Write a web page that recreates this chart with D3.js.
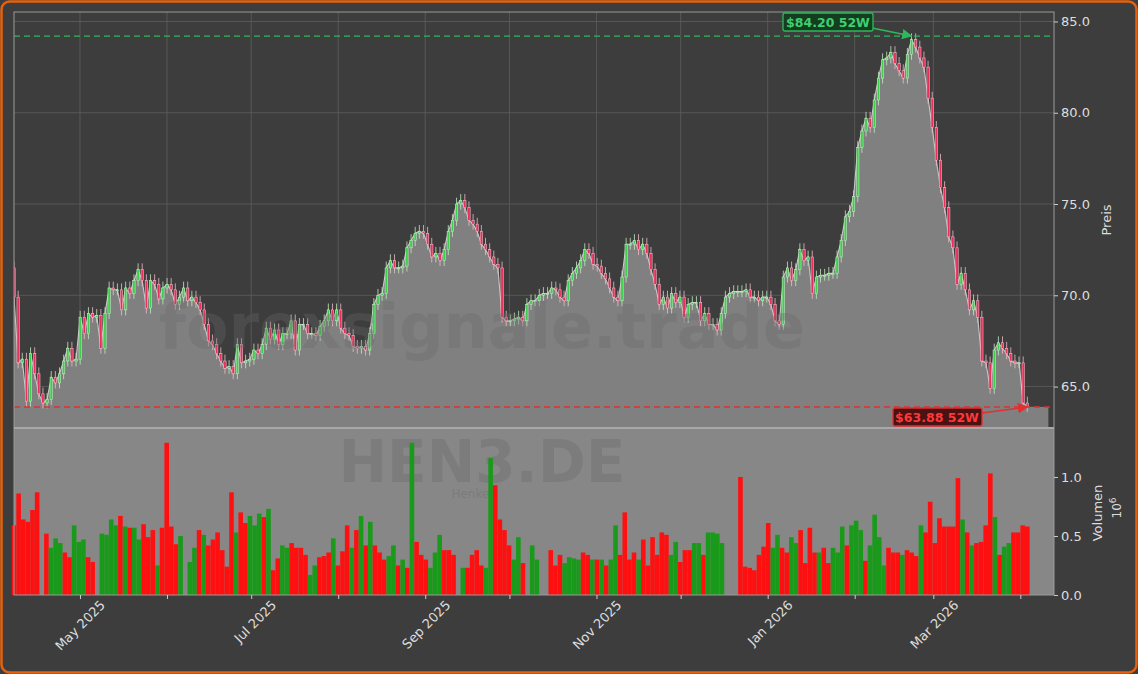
<!DOCTYPE html>
<html><head><meta charset="utf-8">
<script src="https://cdn.jsdelivr.net/npm/d3@7"></script>
<style>html,body{margin:0;padding:0;background:#3d3d3d;}svg{display:block;font-family:"DejaVu Sans",sans-serif;}</style>
</head><body><svg id="c" width="1138" height="674"></svg>
<script>
const firstOpen = 71.5;
const closes = [69.9,66.3,66.5,64.2,66.8,65.7,64.6,64.1,64.3,65.5,65.2,65.7,66.4,67.1,66.4,66.5,68.8,67.9,69.0,68.8,68.9,67.1,69.0,70.4,70.3,70.3,69.2,70.4,70.1,70.8,71.4,70.8,69.3,70.8,70.6,69.8,70.4,70.6,70.3,69.5,69.9,70.4,69.7,69.9,69.6,69.2,68.4,67.5,67.3,66.8,66.4,66.0,66.1,65.7,67.3,66.3,66.4,66.5,67.0,66.8,67.3,68.2,67.6,68.1,67.3,67.9,67.9,68.6,67.0,68.4,68.4,67.9,67.9,67.8,68.3,68.6,69.2,68.6,69.2,68.2,67.9,67.8,67.2,67.1,67.2,67.0,67.9,69.5,70.0,70.1,71.5,71.9,71.5,71.5,71.6,72.6,73.0,73.4,73.5,73.4,72.8,72.1,72.3,71.9,72.5,73.5,74.1,75.0,75.2,74.8,74.1,73.9,73.5,72.8,72.5,72.1,71.7,71.5,68.8,68.6,68.6,68.7,68.8,68.6,69.5,69.7,
69.7,70.0,70.1,70.1,70.4,70.3,69.9,69.7,70.8,71.2,71.5,71.9,72.5,72.3,71.7,71.6,71.2,70.9,70.4,69.9,69.7,71.0,72.8,72.8,73.0,72.5,72.8,72.3,71.4,70.6,69.5,69.9,69.3,70.1,69.6,69.9,68.8,69.5,69.6,69.6,68.6,69.0,68.4,68.4,68.1,69.0,69.9,70.1,70.2,70.2,70.2,70.3,69.9,69.9,69.7,69.9,69.9,69.5,68.6,68.4,71.0,71.5,70.8,71.4,72.5,71.9,72.1,70.1,71.0,71.1,71.1,71.2,71.2,72.1,73.0,74.3,74.6,75.4,78.1,79.0,79.7,79.2,80.7,81.9,82.9,83.0,83.3,82.7,82.3,81.9,83.2,84.0,83.6,83.0,82.5,80.8,79.2,77.4,75.9,74.8,73.2,72.6,70.6,71.2,70.3,69.2,69.7,68.8,66.4,66.3,64.9,67.0,67.4,67.1,66.8,66.4,66.3,66.3,64.1,63.9];
const volumes = [.59,.86,.64,.62,.72,.87,0,.52,.40,.48,.44,.36,.32,.59,.45,.47,.32,.28,0,
.52,.51,.64,.59,.67,.58,.57,.57,.47,.60,.49,.55,.25,.57,1.29,.58,.43,.50,0,
.28,.40,.55,.51,.42,.47,.53,.38,.24,.87,.53,.70,.61,.67,.59,.69,.66,.73,
.21,.31,.42,.40,.44,.40,.40,.34,.17,.25,.32,.33,.36,.48,.25,.37,.59,.40,.55,.67,.42,.62,.42,.36,.30,.33,.42,.25,.30,.23,1.29,.45,.34,.30,.23,.36,.51,.38,.38,.34,0,
.23,.23,.34,.38,.25,.23,1.16,.93,.64,.55,.42,.30,.49,.27,0,.42,.30,0,0,
.38,.25,.34,.27,.32,.31,.30,.36,.34,.30,.30,.30,.25,.30,.59,.34,.70,.30,.36,.30,.47,.25,.49,.34,.53,.51,.34,.45,.28,.38,.38,.44,.44,.34,.53,.53,.52,.44,0,0,0,
1.0,.24,.23,.21,.34,.41,.61,.40,.51,.40,.36,.49,.44,.55,.27,.57,.36,.36,.40,.27,.40,.36,.58,.42,.59,.63,.55,.29,.42,.68,.49,.25,.40,.36,.36,.34,.38,.36,.33,.59,.53,.79,.44,.65,.58,.58,.58,.99,.64,.53,.42,.44,.45,.59,1.03,.66,.34,.41,.44,.53,.53,.59,.58];
const volumeDir = "rrrrrrg"+"rgggrrgggrr"+"g"+"ggggrgrggrrrgrrrrg"+"g"+"ggrgrrrrrrgrrgggrg"+"rrggrrrrggrrrgrrrgrgrgrrrggrgrgrrrgggrrr"+"g"+"grrrrggrrrrggr"+"ggggg"+"rrrggggrrgrgrggrrrrgrrrrrrggrrrggrgggg"+"ggg"+"rrrrrrrggrrggrrrrgrrgggrgggrggggrrrgrrrgrrrrrrrrgrgrrrrgrggrrrr";
const priceTicks = [65,70,75,80,85];
const volTicks = [0,0.5,1.0];
const monthLabels = ["May 2025","Jul 2025","Sep 2025","Nov 2025","Jan 2026","Mar 2026"];
const high52 = 84.20, low52 = 63.88;
const startDate = new Date(2025,3,7,12), endDate = new Date(2026,3,3,12);

const svg = d3.select("#c");
const L=14,R=1054,PT=12,PB=428,VB=595;
const x = d3.scaleTime().domain([new Date(2025,3,7,12), new Date(2026,3,13)]).range([L,R]);
const y = d3.scaleLinear().domain([62.73,85.52]).range([PB,PT]);
const yv = d3.scaleLinear().domain([0,1.415]).range([VB,PB]);
const spread = (n)=>d3.range(n).map(i=>new Date(+startDate + (endDate-startDate)*i/(n-1)));
const pd = spread(closes.length), vd = spread(volumes.length);
const candles = closes.map((c,i)=>{const o = i?closes[i-1]:firstOpen;return {d:pd[i],o,c};});
const areaData = candles.concat([{d:new Date(2026,3,11),c:low52}]);

svg.append("rect").attr("width",1138).attr("height",674).attr("fill","#3d3d3d");
svg.append("rect").attr("x",1.5).attr("y",1.5).attr("width",1135).attr("height",671).attr("rx",8).attr("fill","none").attr("stroke","#e8600a").attr("stroke-width",2.5);
svg.append("defs").append("clipPath").attr("id","pc").append("rect").attr("x",L).attr("y",PT).attr("width",R-L).attr("height",VB-PT);
svg.append("rect").attr("x",L).attr("y",PB).attr("width",R-L).attr("height",VB-PB).attr("fill","#878787");
const months = d3.timeMonth.range(new Date(2025,4,1), new Date(2026,3,2));
const g = svg.append("g");
g.selectAll("line.v").data(months).join("line").attr("x1",d=>x(d)).attr("x2",d=>x(d)).attr("y1",PT).attr("y2",PB).attr("stroke","#5e5e5e").attr("stroke-width",0.8);
g.selectAll("line.h").data(priceTicks).join("line").attr("x1",L).attr("x2",R).attr("y1",d=>y(d)).attr("y2",d=>y(d)).attr("stroke","#5e5e5e").attr("stroke-width",0.8);
svg.append("text").attr("x",482).attr("y",348).attr("text-anchor","middle").attr("font-size",62).attr("font-weight","bold").attr("fill","#3a3a3a").attr("opacity",0.55).text("forexsignale.trade");
const pc = svg.append("g").attr("clip-path","url(#pc)");
pc.append("path").datum(areaData).attr("d",d3.area().x(d=>x(d.d)).y0(PB).y1(d=>y(d.c))).attr("fill","#808080");
pc.append("path").datum(candles).attr("d",d3.line().x(d=>x(d.d)).y(d=>y(d.c))).attr("fill","none").attr("stroke","#c8c8c8").attr("stroke-width",1.1);
svg.append("text").attr("x",482).attr("y",348).attr("text-anchor","middle").attr("font-size",62).attr("font-weight","bold").attr("fill","#6a6a6a").attr("opacity",0.35).text("forexsignale.trade");
const cg = pc.append("g");
cg.selectAll("line").data(candles).join("line").attr("x1",d=>x(d.d)).attr("x2",d=>x(d.d))
 .attr("y1",d=>y(Math.max(d.o,d.c)+0.35)).attr("y2",d=>y(Math.min(d.o,d.c)-0.3))
 .attr("stroke",d=>d.c>=d.o?"#c0e8c0":"#f0b8c8").attr("stroke-width",0.8);
cg.selectAll("rect").data(candles).join("rect").attr("x",d=>x(d.d)-1.2).attr("width",2.4)
 .attr("y",d=>y(Math.max(d.o,d.c))).attr("height",d=>Math.max(1,Math.abs(y(d.o)-y(d.c))))
 .attr("fill",d=>d.c>=d.o?"#3ecf4a":"#e8305a").attr("stroke",d=>d.c>=d.o?"#d0f0d0":"#f8c8d4").attr("stroke-width",0.5);
svg.append("text").attr("x",482).attr("y",482).attr("text-anchor","middle").attr("font-size",58).attr("font-weight","bold").attr("fill","#7c7c7c").text("HEN3.DE");
svg.append("text").attr("x",472).attr("y",498).attr("text-anchor","middle").attr("font-size",12).attr("fill","#7c7c7c").text("Henkel");
svg.append("g").selectAll("rect").data(volumes).join("rect").attr("x",(d,i)=>x(vd[i])-2.3).attr("width",4.6)
 .attr("y",d=>yv(d)).attr("height",d=>VB-yv(d)).attr("fill",(d,i)=>volumeDir[i]==="g"?"#1a9a1a":"#ff1010");
svg.append("line").attr("x1",L).attr("x2",R).attr("y1",y(high52)).attr("y2",y(high52)).attr("stroke","#2eb85c").attr("stroke-dasharray","6,4").attr("stroke-width",1.3);
svg.append("line").attr("x1",L).attr("x2",R).attr("y1",y(low52)).attr("y2",y(low52)).attr("stroke","#e03030").attr("stroke-dasharray","6,4").attr("stroke-width",1.3);
svg.append("rect").attr("x",L).attr("y",PT).attr("width",R-L).attr("height",VB-PT).attr("fill","none").attr("stroke","#9a9a9a").attr("stroke-width",1);
svg.append("line").attr("x1",L).attr("x2",R).attr("y1",PB).attr("y2",PB).attr("stroke","#a8a8a8").attr("stroke-width",2);
const ax = svg.append("g").attr("transform",`translate(${R},0)`).call(d3.axisRight(y).tickValues(priceTicks).tickFormat(d3.format(".1f")).tickSize(4));
const av = svg.append("g").attr("transform",`translate(${R},0)`).call(d3.axisRight(yv).tickValues(volTicks).tickFormat(d3.format(".1f")).tickSize(4));
const axb = svg.append("g").attr("transform",`translate(0,${VB})`).call(d3.axisBottom(x).tickValues(months).tickFormat("").tickSize(4));
[ax,av,axb].forEach(a=>{a.select(".domain").remove();a.selectAll("line").attr("stroke","#cccccc");a.selectAll("text").attr("fill","#dddddd").attr("font-size",13).attr("font-family","DejaVu Sans");});
const labelMonths = months.filter((d,i)=>i%2===0);
svg.append("g").selectAll("text").data(labelMonths).join("text")
 .attr("transform",(d,i)=>`translate(${x(d)+26},${606}) rotate(-45)`).attr("text-anchor","end").attr("fill","#dddddd").attr("font-size",13).text((d,i)=>monthLabels[i]);
svg.append("text").attr("transform","translate(1111,220) rotate(-90)").attr("text-anchor","middle").attr("fill","#dddddd").attr("font-size",13).text("Preis");
svg.append("text").attr("transform","translate(1102,513) rotate(-90)").attr("text-anchor","middle").attr("fill","#dddddd").attr("font-size",13).text("Volumen");
const t6=svg.append("text").attr("transform","translate(1121,508) rotate(-90)").attr("text-anchor","middle").attr("fill","#dddddd").attr("font-size",12);
t6.append("tspan").text("10");t6.append("tspan").attr("dy",-5).attr("font-size",9).text("6");
svg.append("defs").html('<marker id="ag" viewBox="0 0 10 10" refX="9" refY="5" markerWidth="7" markerHeight="7" orient="auto"><path d="M0,0L10,5L0,10z" fill="#2eb85c"/></marker><marker id="ar" viewBox="0 0 10 10" refX="9" refY="5" markerWidth="7" markerHeight="7" orient="auto"><path d="M0,0L10,5L0,10z" fill="#e03030"/></marker>');
const hi = candles.reduce((a,b)=>b.c>a.c?b:a), lo = candles[candles.length-1];
svg.append("line").attr("x1",872).attr("y1",28).attr("x2",x(hi.d)).attr("y2",y(high52)).attr("stroke","#2eb85c").attr("stroke-width",1.5).attr("marker-end","url(#ag)");
svg.append("rect").attr("x",783).attr("y",13).attr("width",90).attr("height",18).attr("rx",2).attr("fill","#153d20").attr("stroke","#2eb85c").attr("stroke-width",1.3);
svg.append("text").attr("x",828).attr("y",27).attr("text-anchor","middle").attr("font-size",12.5).attr("font-weight","bold").attr("fill","#3ed070").text("$84.20 52W");
svg.append("line").attr("x1",982).attr("y1",413).attr("x2",x(lo.d)).attr("y2",y(low52)).attr("stroke","#e03030").attr("stroke-width",1.5).attr("marker-end","url(#ar)");
svg.append("rect").attr("x",893).attr("y",408).attr("width",89).attr("height",18).attr("rx",2).attr("fill","#4a1212").attr("stroke","#e03030").attr("stroke-width",1.3);
svg.append("text").attr("x",937).attr("y",422).attr("text-anchor","middle").attr("font-size",12.5).attr("font-weight","bold").attr("fill","#ff3838").text("$63.88 52W");
</script></body></html>
